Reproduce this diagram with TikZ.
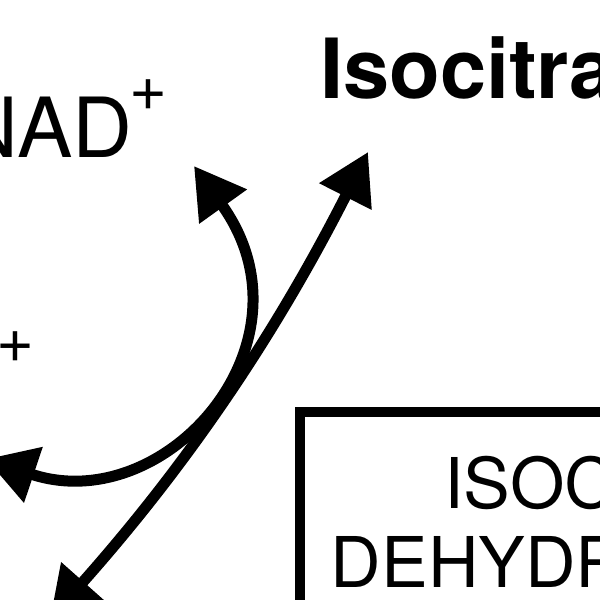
\documentclass[tikz,border=0pt]{standalone}
\usepackage{fontspec}
\setmainfont{TeX Gyre Heros}
\usetikzlibrary{arrows.meta}

\begin{document}
\begin{tikzpicture}[x=1pt, y=-1pt,
    react/.style={line width=11pt, {Triangle[length=50pt,width=56pt]}-{Triangle[length=50pt,width=56pt]}},
    bigtxt/.style={inner sep=0pt, font=\fontsize{83}{90}\selectfont},
    smalltxt/.style={inner sep=0pt, font=\fontsize{65}{70}\selectfont}]
    \useasboundingbox (0,0) rectangle (600,600);

    \node[bigtxt, anchor=base west] (nad) at (-42,157) {NAD\kern-3pt\raisebox{47pt}{\fontsize{65}{70}\selectfont +}};
    \node[bigtxt, anchor=base west, font=\fontsize{83}{90}\selectfont\bfseries] (isocitrate) at (320,98) {Isocitrate};
    \node[smalltxt, anchor=base west] (proton) at (-4,362) {+};

    \node[draw, rectangle, line width=10.5pt, outer sep=0pt, anchor=north west, minimum width=702pt, minimum height=221pt, align=center, font=\fontsize{70}{79}\selectfont] (enzyme) at (300,412) {ISOCITRATE\\DEHYDROGENASE};

    \coordinate (nadtip) at (194,166);
    \coordinate (nadhtip) at (-14,459);
    \coordinate (isotip) at (368,152);
    \coordinate (oxotip) at (50,619);

    \draw[react] (nadhtip) .. controls (165,519) and (321,343) .. (nadtip);
    \draw[react] (oxotip) .. controls (186,466) and (274,337) .. (isotip);
\end{tikzpicture}
\end{document}
